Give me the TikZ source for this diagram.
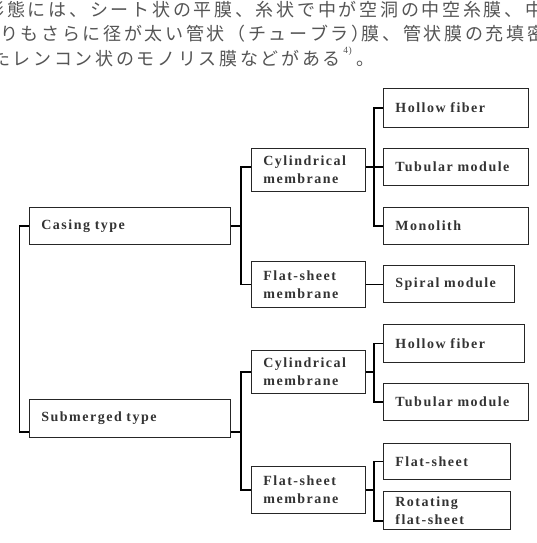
\documentclass[tikz,border=0pt]{standalone}
\usepackage{fontspec}
\setmainfont{Liberation Serif}
\newfontfamily\lbl[LetterSpace=10.7]{Liberation Serif}
\newfontfamily\jp{Noto Sans CJK JP}
\definecolor{txt}{HTML}{333333}
\definecolor{jtxt}{HTML}{555555}
\def\spreadit#1{\ifx\relax#1\else#1\hfill\expandafter\spreadit\fi}
\begin{document}
\begin{tikzpicture}[x=1pt,y=-1pt,
  bx/.style={draw=black!85, line width=0.8pt, fill=white, inner xsep=12pt, inner ysep=0pt,
    align=left, anchor=north west, font=\lbl\bfseries\fontsize{14}{18}\selectfont, text=txt},
  conn/.style={line width=1.4pt, black},
  jline/.style={anchor=base west, inner sep=0pt, text=jtxt, font=\jp\fontsize{18}{18}\selectfont}]
\fill[white] (0,0) rectangle (537,543);
\useasboundingbox (0,0) rectangle (537,543);
\begin{scope}
\clip (0,0) rectangle (537,543);
\node[jline] (l1) at (-13.73,17) {\makebox[559.7pt]{\spreadit 形態には、シート状の平膜、糸状で中が空洞の中空糸膜、中\relax}};
\node[jline] (l2) at (0,40.4) {\makebox[547.5pt]{\spreadit りもさらに径が太い管状（チューブラ）\relax\kern-10.33pt\spreadit 膜、管状膜の充填密\relax}};
\node[jline] (l3) at (-8.2,65.4) {\makebox[351.4pt]{\spreadit たレンコン状のモノリス膜などがある\relax}\raisebox{12pt}{\rmfamily\fontsize{9.5}{10}\selectfont 4\kern0.6pt)}\kern4.5pt 。};
\end{scope}
% level 1
\node[bx, text width=177pt, minimum height=37pt] (casing) at (29,207) {Casing type};
\node[bx, text width=177pt, minimum height=38pt] (submerged) at (29,399) {Submerged type};
% level 2
\node[bx, text width=90pt, minimum height=43pt] (cyl1) at (251,148) {Cylindrical\\membrane};
\node[bx, text width=90pt, minimum height=46pt] (flat1) at (251,261) {Flat-sheet\\membrane};
\node[bx, text width=90pt, minimum height=43pt] (cyl2) at (251,350) {Cylindrical\\membrane};
\node[bx, text width=90pt, minimum height=47pt] (flat2) at (251,466) {Flat-sheet\\membrane};
% level 3
\node[bx, text width=121pt, minimum height=39pt] (hf1) at (383,88) {Hollow fiber};
\node[bx, text width=121pt, minimum height=37pt] (tub1) at (383,148) {Tubular module};
\node[bx, text width=121pt, minimum height=37pt] (mono) at (383,207) {Monolith};
\node[bx, text width=107pt, minimum height=37pt] (spiral) at (383,265) {Spiral module};
\node[bx, text width=117pt, minimum height=38pt] (hf2) at (383,324) {Hollow fiber};
\node[bx, text width=121pt, minimum height=37pt] (tub2) at (383,383) {Tubular module};
\node[bx, text width=103pt, minimum height=36pt] (fs) at (383,443) {Flat-sheet};
\node[bx, text width=103pt, minimum height=38pt] (rot) at (383,491) {Rotating\\flat-sheet};
% connectors
\coordinate (j1) at ([xshift=-10pt]cyl1.west);
\draw[conn] (casing.west) -- ++(-9.5,0) |- ([yshift=6pt]submerged.south west);
\draw[conn] (casing.east) -- (casing.east -| j1);
\draw[conn] ([yshift=3pt]cyl1.west) -- ++(-10,0) |- (flat1.west);
\draw[conn] (tub1.west) -- (tub1.west -| cyl1.east);
\draw[conn] (hf1.west) -- ++(-9,0) |- (mono.west);
\draw[conn] (flat1.east) -- (flat1.east -| spiral.west);
\coordinate (j2) at ([xshift=-10pt]cyl2.west);
\draw[conn] ([yshift=6pt]submerged.south east) -- ([yshift=6pt]submerged.south east -| j2);
\draw[conn] (cyl2.west) -- ++(-10,0) |- (flat2.west);
\draw[conn] (cyl2.east) -- ++(9,0);
\draw[conn] (hf2.west) -- ++(-9,0) |- (tub2.west);
\draw[conn] (flat2.east) -- ++(9,0);
\draw[conn] (fs.west) -- ++(-9,0) |- ([yshift=9pt]rot.south west);
\end{tikzpicture}
\end{document}
